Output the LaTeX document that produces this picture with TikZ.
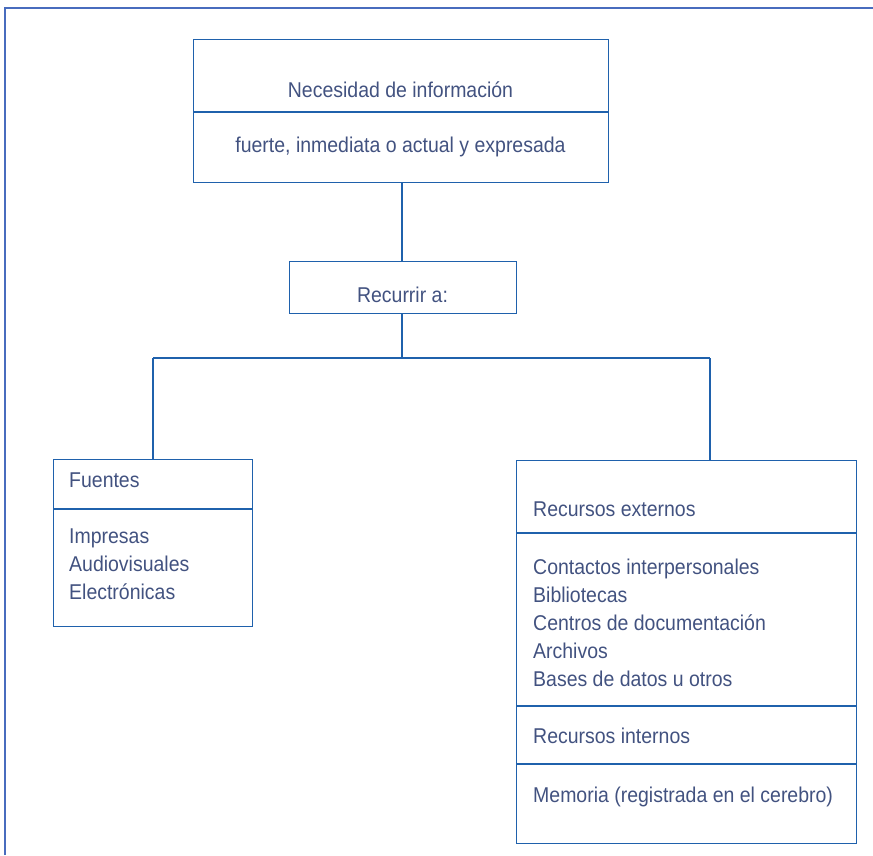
\documentclass[tikz,border=0pt]{standalone}
\usepackage{fontspec}
\setmainfont{Liberation Sans}[FakeStretch=0.91]
\definecolor{linecol}{RGB}{31,97,172}
\definecolor{framecol}{RGB}{72,108,190}
\definecolor{txtcol}{RGB}{66,82,128}
\begin{document}
\begin{tikzpicture}[x=1pt,y=-1pt,
  box/.style={draw=linecol, line width=1.3pt, rectangle, anchor=north west, inner sep=0pt},
  conn/.style={draw=linecol, line width=1.3pt},
  lbl/.style={text=txtcol, inner sep=0pt, font=\fontsize{21.4}{28}\selectfont},
  lblc/.style={lbl, anchor=base},
  lbll/.style={lbl, anchor=base west}]
\useasboundingbox (0,0) rectangle (873,855);
% outer frame (top and left edges only)
\draw[draw=framecol, line width=1.2pt] (5,855) -- (5,8) -- (873,8);
% boxes
\node[box, minimum width=415pt, minimum height=143pt] (top) at (193,39) {};
\node[box, minimum width=227pt, minimum height=52pt] (rec) at (289,261) {};
\node[box, minimum width=199pt, minimum height=167pt] (fue) at (53,459) {};
\node[box, minimum width=340pt, minimum height=383pt] (res) at (516,460) {};
% dividers
\coordinate (d1) at (0,112);
\draw[conn] (top.west |- d1) -- (top.east |- d1);
\coordinate (d2) at (0,509);
\draw[conn] (fue.west |- d2) -- (fue.east |- d2);
\coordinate (d3) at (0,533);
\coordinate (d4) at (0,706);
\coordinate (d5) at (0,764);
\draw[conn] (res.west |- d3) -- (res.east |- d3);
\draw[conn] (res.west |- d4) -- (res.east |- d4);
\draw[conn] (res.west |- d5) -- (res.east |- d5);
% connectors
\coordinate (j) at (402,358);
\coordinate (jl) at (153,358);
\coordinate (jr) at (710,358);
\draw[conn] (top.south -| j) -- (rec.north -| j);
\draw[conn] (rec.south -| j) -- (j);
\draw[conn] (jl) -- (jr);
\draw[conn] (jl) -- (fue.north -| jl);
\draw[conn] (jr) -- (res.north -| jr);
% texts
\node[lblc] (t1) at (400.5,97) {Necesidad de información};
\node[lblc] (t2) at (400.5,152) {fuerte, inmediata o actual y expresada};
\node[lblc] (t3) at (402.5,302) {Recurrir a:};
\node[lbll] (f1) at (69,487) {Fuentes};
\node[lbll] (f2) at (69,543) {Impresas};
\node[lbll] (f3) at (69,571) {Audiovisuales};
\node[lbll] (f4) at (69,599) {Electrónicas};
\node[lbll] (r1) at (533,516) {Recursos externos};
\node[lbll] (r2) at (533,574) {Contactos interpersonales};
\node[lbll] (r3) at (533,602) {Bibliotecas};
\node[lbll] (r4) at (533,630) {Centros de documentación};
\node[lbll] (r5) at (533,658) {Archivos};
\node[lbll] (r6) at (533,686) {Bases de datos u otros};
\node[lbll] (r7) at (533,743) {Recursos internos};
\node[lbll] (r8) at (533,802) {Memoria (registrada en el cerebro)};
\end{tikzpicture}
\end{document}
